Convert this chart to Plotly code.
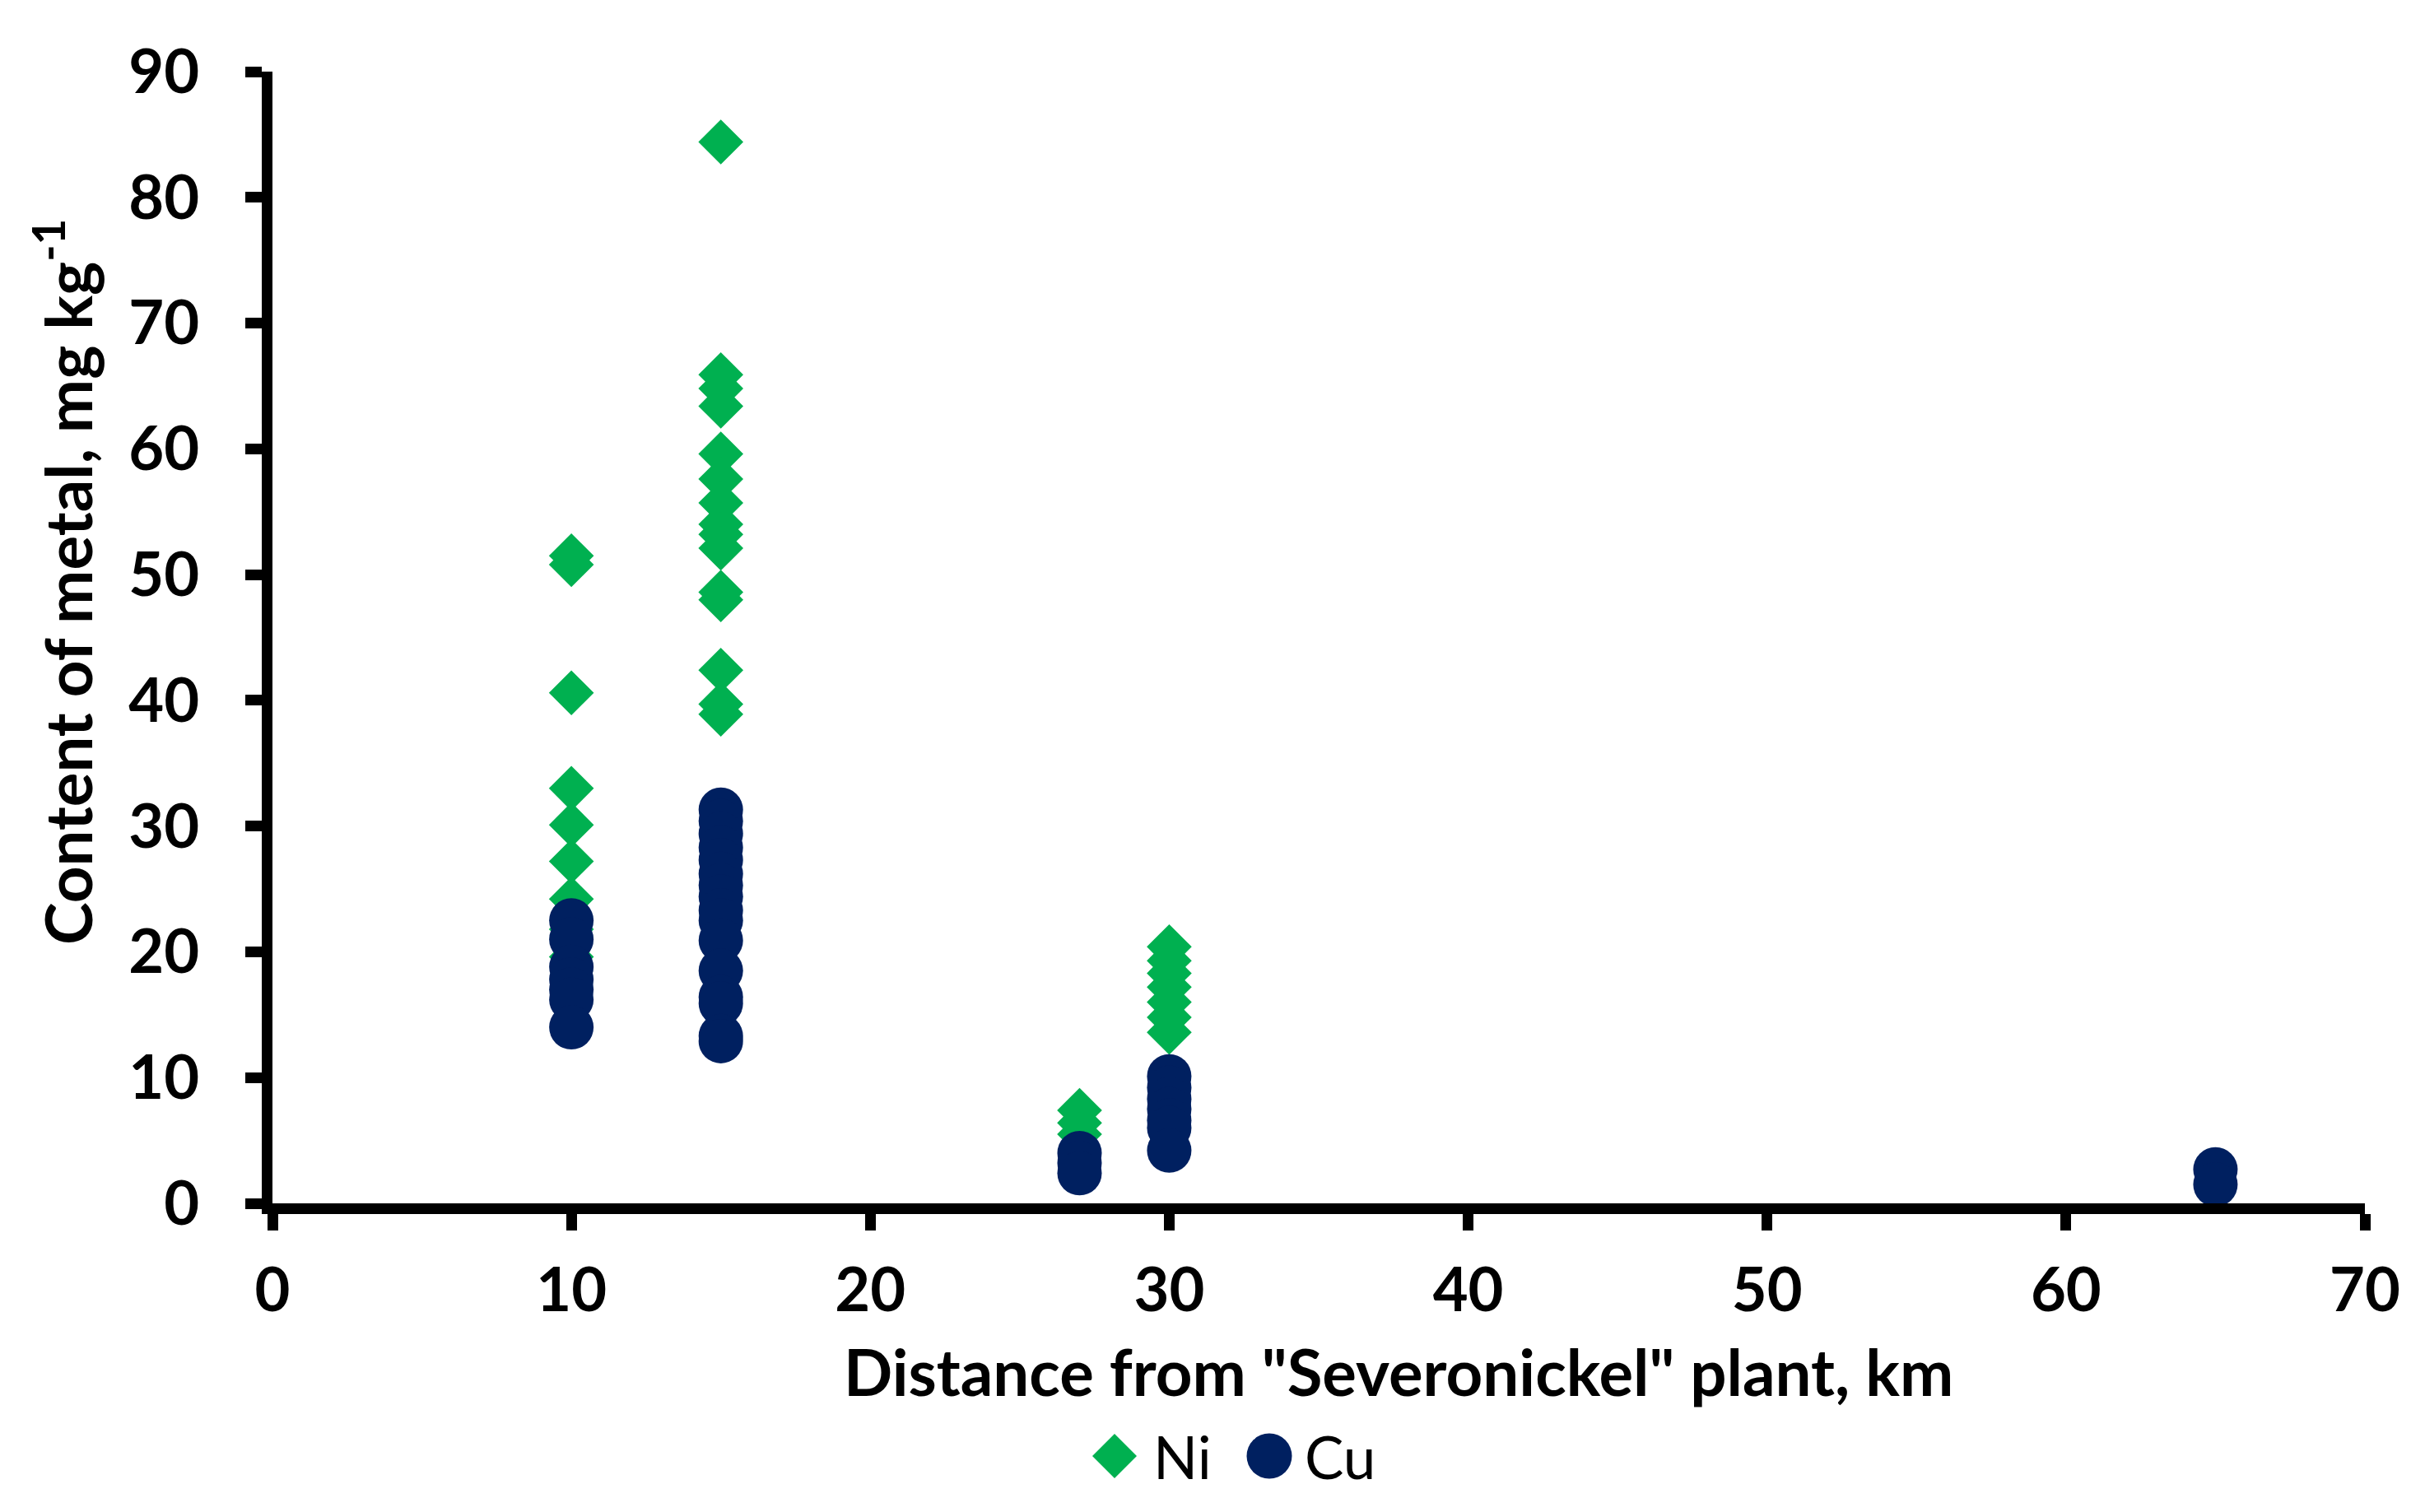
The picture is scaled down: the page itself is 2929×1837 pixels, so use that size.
import plotly.graph_objects as go

# ---- data ----
ni_distance = [10]*9 + [15]*15 + [27]*3 + [30]*7
ni_content = [51.5, 50.8, 40.6, 33.0, 30.1, 27.2, 24.2, 21.8, 19.6,
              84.4, 65.9, 64.8, 63.4, 59.6, 57.6, 55.7, 54.0, 53.2, 52.1, 48.6, 48.0, 42.4, 39.7, 38.9,
              7.4, 6.4, 5.5,
              20.4, 19.3, 18.3, 17.2, 16.0, 14.8, 13.6]

cu_distance = [10]*7 + [15]*16 + [27]*3 + [30]*7 + [65]*2
cu_content = [22.5, 21.0, 18.8, 17.8, 17.0, 16.2, 14.0,
              31.3, 30.4, 29.4, 28.3, 27.3, 26.2, 25.3, 24.4, 23.3, 22.5, 20.9, 18.5, 16.4, 15.9, 13.3, 12.9,
              4.0, 3.2, 2.4,
              10.1, 9.2, 8.3, 7.5, 6.6, 6.0, 4.2,
              2.7, 1.5]

x_ticks = [0, 10, 20, 30, 40, 50, 60, 70]
y_ticks = [0, 10, 20, 30, 40, 50, 60, 70, 80, 90]

series_names = ["Ni", "Cu"]
GREEN = "#00B050"
NAVY = "#002060"
FONT = "Lato"

W, H = 2929, 1837
L, R, T, B = 323, 64, 79, 383
PW, PH = W - L - R, H - T - B


def px(xp):
    return (xp - L) / PW


def py(yp):
    return (H - B - yp) / PH


fig = go.Figure()
fig.add_trace(go.Scatter(
    x=ni_distance, y=ni_content, mode="markers", name=series_names[0],
    marker=dict(symbol="diamond", size=42, color=GREEN, line=dict(width=0)),
    showlegend=False))
fig.add_trace(go.Scatter(
    x=cu_distance, y=cu_content, mode="markers", name=series_names[1],
    marker=dict(symbol="circle", size=54, color=NAVY, line=dict(width=0)),
    showlegend=False))

axis_common = dict(
    showgrid=False, zeroline=False, showline=True, linecolor="black", linewidth=13,
    ticks="outside", ticklen=20, tickwidth=13, tickcolor="black",
    tickfont=dict(family=FONT, size=74, weight="bold", color="black"),
)
fig.update_xaxes(range=[0, 70], tickvals=x_ticks, ticklabelstandoff=9, **axis_common)
fig.update_yaxes(range=[0, 90], tickvals=y_ticks, ticklabelstandoff=41, **axis_common)

TITLE_SIZE = 78
annotations = [
    dict(text='Distance from "Severonickel" plant, km', xref="paper", yref="paper",
         x=px(1691), y=py(1658), xanchor="center", yanchor="middle", showarrow=False,
         font=dict(family=FONT, size=TITLE_SIZE, weight="bold", color="black")),
    dict(text="Content of metal, mg kg<sup>-1</sup>", xref="paper", yref="paper",
         x=px(69), y=py(699), xanchor="center", yanchor="middle", showarrow=False,
         textangle=-90, font=dict(family=FONT, size=TITLE_SIZE, weight="bold", color="black")),
    dict(text=series_names[0], xref="paper", yref="paper", x=px(1391), y=py(1761),
         xanchor="left", yanchor="middle", showarrow=False,
         font=dict(family=FONT, size=71, color="black")),
    dict(text=series_names[1], xref="paper", yref="paper", x=px(1575), y=py(1761),
         xanchor="left", yanchor="middle", showarrow=False,
         font=dict(family=FONT, size=71, color="black")),
]

shapes = [
    dict(type="path", xref="paper", yref="paper", xsizemode="pixel", ysizemode="pixel",
         xanchor=px(1346), yanchor=py(1761), path="M -27,0 L 0,27 L 27,0 L 0,-27 Z",
         fillcolor=GREEN, line=dict(width=0)),
    dict(type="circle", xref="paper", yref="paper", xsizemode="pixel", ysizemode="pixel",
         xanchor=px(1534), yanchor=py(1761), x0=-27.5, x1=27.5, y0=-27.5, y1=27.5,
         fillcolor=NAVY, line=dict(width=0)),
]

fig.update_layout(
    width=W, height=H, margin=dict(l=L, r=R, t=T, b=B, autoexpand=False),
    paper_bgcolor="white", plot_bgcolor="white",
    annotations=annotations, shapes=shapes, showlegend=False,
)

fig.write_html("out.html")
